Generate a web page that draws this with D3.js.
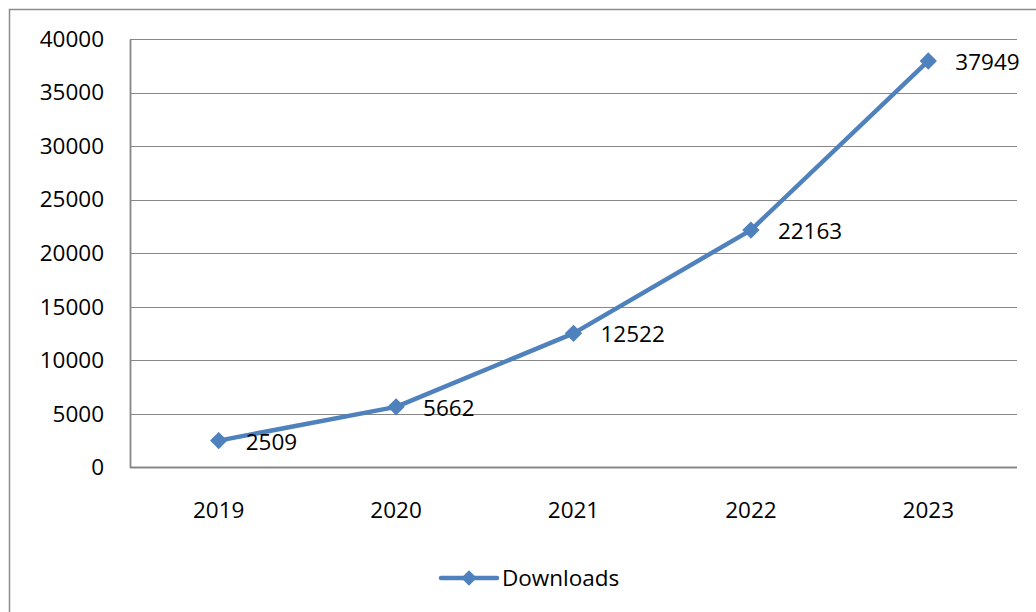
<!DOCTYPE html>
<html><head><meta charset="utf-8">
<script src="https://cdn.jsdelivr.net/npm/d3@7"></script>
<style>html,body{margin:0;padding:0;background:#fff;}svg{display:block;}</style>
</head><body>
<svg id="c" width="1036" height="612"></svg>
<script>
const categories = ["2019","2020","2021","2022","2023"];
const downloads = [2509, 5662, 12522, 22163, 37949];
const yTicks = [0,5000,10000,15000,20000,25000,30000,35000,40000];
const seriesName = "Downloads";

(function(){
const svg = d3.select("#c");
const font = "'Open Sans', 'Liberation Sans', sans-serif";
const fs = "22.5px";
const color = "#4F81BD";
const grid = "#878787";

svg.append("rect").attr("x",9.5).attr("y",9.5).attr("width",1100).attr("height",700)
  .attr("fill","none").attr("stroke","#8c8c8c").attr("stroke-width",1.5);

const pL = 130, pR = 1017, pT = 39, pB = 467.5;
const x = d3.scaleBand().domain(categories).range([pL, pR]);
const y = d3.scaleLinear().domain([0, 40000]).range([pB, pT]);

// gridlines
svg.append("g").selectAll("line").data(yTicks.filter(d=>d>0)).join("line")
  .attr("x1", pL).attr("x2", pR)
  .attr("y1", d=>Math.round(y(d))+0.5).attr("y2", d=>Math.round(y(d))+0.5)
  .attr("stroke", grid).attr("stroke-width",1.2);

// y axis
const ya = svg.append("g").attr("transform",`translate(${pL},0)`)
  .call(d3.axisLeft(y).tickValues(yTicks).tickSize(0).tickPadding(26).tickFormat(d3.format("d")));
ya.select(".domain").attr("stroke",grid).attr("stroke-width",1.8);
ya.selectAll("text").attr("font-family",font).attr("font-size",fs).attr("fill","#000");

// x axis
const xa = svg.append("g").attr("transform",`translate(0,${pB})`)
  .call(d3.axisBottom(x).tickSize(0).tickPadding(35));
xa.select(".domain").attr("stroke",grid).attr("stroke-width",1.8).attr("d",`M${pL},0H${pR}`);
xa.selectAll("text").attr("font-family",font).attr("font-size",fs).attr("fill","#000");

const cx = d => x(d) + x.bandwidth()/2;
const line = d3.line().x((d,i)=>cx(categories[i])).y(d=>y(d));
svg.append("path").datum(downloads).attr("d",line).attr("fill","none")
  .attr("stroke",color).attr("stroke-width",4.5).attr("stroke-linejoin","round");

svg.append("g").selectAll("path").data(downloads).join("path")
  .attr("d", d3.symbol().type(d3.symbolSquare).size(150))
  .attr("transform",(d,i)=>`translate(${cx(categories[i])},${y(d)}) rotate(45)`)
  .attr("fill",color);

svg.append("g").selectAll("text").data(downloads).join("text")
  .attr("x",(d,i)=>cx(categories[i])+27).attr("y",d=>y(d)+3)
  .attr("dominant-baseline","middle")
  .attr("font-family",font).attr("font-size",fs).attr("fill","#000")
  .text(d=>d);

// legend
const ly = 578;
svg.append("line").attr("x1",441).attr("x2",497).attr("y1",ly).attr("y2",ly)
  .attr("stroke",color).attr("stroke-width",4.5).attr("stroke-linecap","round");
svg.append("path").attr("d", d3.symbol().type(d3.symbolSquare).size(120))
  .attr("transform",`translate(469,${ly}) rotate(45)`).attr("fill",color);
svg.append("text").attr("x",502).attr("y",ly+2).attr("dominant-baseline","middle")
  .attr("font-family",font).attr("font-size",fs).attr("fill","#000").text(seriesName);
})();
</script>
</body></html>
